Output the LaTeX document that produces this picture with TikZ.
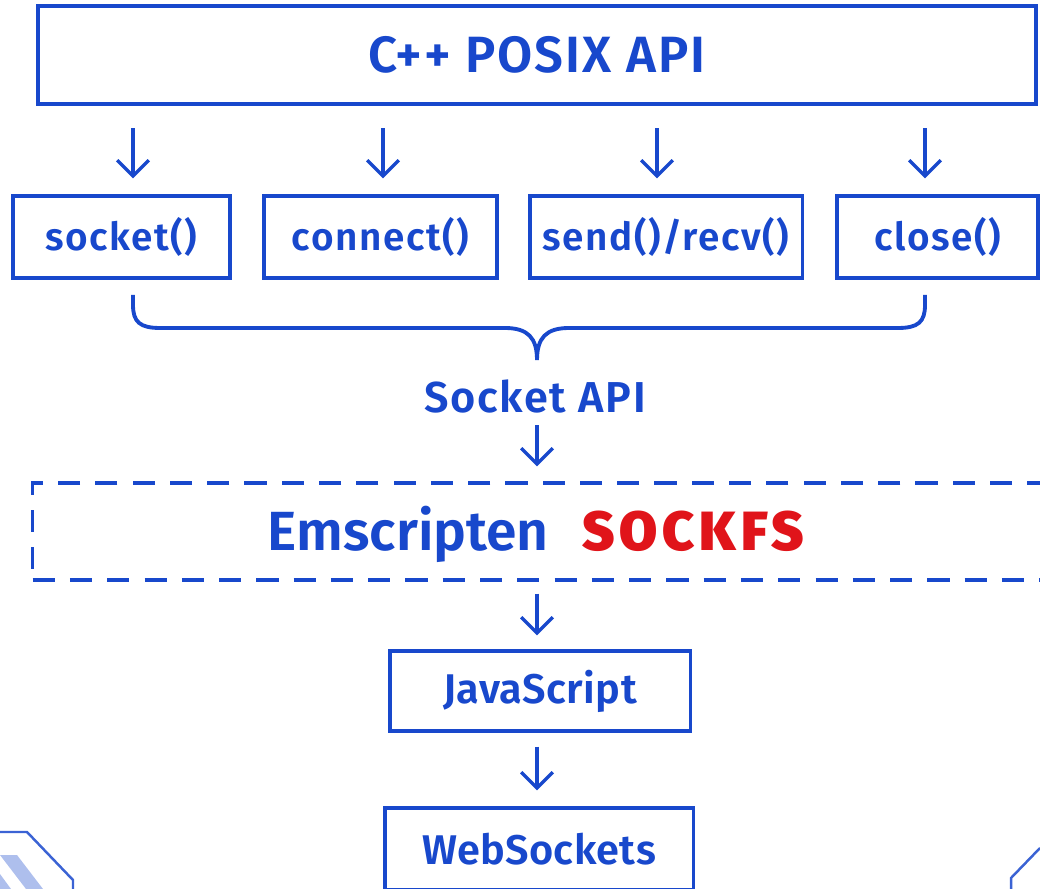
\documentclass[tikz,border=0pt]{standalone}
\usepackage{fontspec}
\setmainfont{Fira Sans}[BoldFont={Fira Sans SemiBold}]
\newfontfamily\heavyfont{Fira Sans Bold}[LetterSpace=9]
\usetikzlibrary{
    arrows.meta,
    positioning
}
\definecolor{apiblue}{HTML}{1848CC}
\definecolor{fsred}{HTML}{E0141A}
\tikzset{
    callbox/.style={draw=apiblue, line width=0.9pt, minimum height=0.82cm, text=apiblue,
        font=\fontsize{11}{13}\selectfont\bfseries\addfontfeatures{LetterSpace=4}},
    layerbox/.style={draw=apiblue, line width=0.9pt, minimum height=0.8cm, text=apiblue,
        font=\fontsize{11.8}{14}\selectfont\bfseries\addfontfeatures{LetterSpace=1}},
    flow/.style={draw=apiblue, line width=0.95pt, -{Straight Barb[length=4.5pt,width=9pt]}},
}

\begin{document}
\begin{tikzpicture}[x=0.01cm, y=-0.01cm]
    \clip (0, 0) rectangle (1040, 889);
    % top layer
    \node[draw=apiblue, line width=1.2pt, minimum width=9.97cm, minimum height=0.98cm, text=apiblue,
        font=\fontsize{14.5}{16}\selectfont\bfseries\addfontfeatures{LetterSpace=4}] (posix) at (537, 55) {C++ POSIX API};
    % the four calls
    \node[callbox, minimum width=2.17cm] (sock) at (121.5, 237) {socket()};
    \node[callbox, minimum width=2.33cm] (conn) at (380.5, 237) {connect()};
    \node[callbox, minimum width=2.72cm] (sendrecv) at (666, 237) {send()/recv()};
    \node[callbox, minimum width=2.01cm] (close) at (937.5, 237) {close()};
    \coordinate (c1) at (133, 0);
    \coordinate (c2) at (383, 0);
    \coordinate (c3) at (657, 0);
    \coordinate (c4) at (925, 0);
    \draw[flow, shorten <=0.22cm, shorten >=0.16cm] (c1 |- posix.south) -- (c1 |- sock.north);
    \draw[flow, shorten <=0.22cm, shorten >=0.16cm] (c2 |- posix.south) -- (c2 |- conn.north);
    \draw[flow, shorten <=0.22cm, shorten >=0.16cm] (c3 |- posix.south) -- (c3 |- sendrecv.north);
    \draw[flow, shorten <=0.22cm, shorten >=0.16cm] (c4 |- posix.south) -- (c4 |- close.north);
    % brace
    \coordinate (tip) at (537, 360);
    \draw[apiblue, line width=1.1pt]
        (c1 |- 0, 295) -- (c1 |- 0, 305) .. controls (133, 322) and (140, 328) .. (160, 328)
        -- (505, 328) .. controls (528, 328) and (537, 338) .. (tip)
        .. controls (537, 338) and (546, 328) .. (569, 328)
        -- (898, 328) .. controls (918, 328) and (925, 322) .. (c4 |- 0, 305) -- (c4 |- 0, 295);
    \node[text=apiblue, font=\fontsize{12.3}{14}\selectfont\bfseries\addfontfeatures{LetterSpace=4}] (sockapi) at (535, 396) {Socket API};
    % sockfs layer
    \node[draw=apiblue, line width=0.9pt, dash pattern=on 6.3pt off 4.3pt,
        minimum width=10.37cm, minimum height=0.97cm] (fsbox) at (551.5, 531.5) {};
    \node[text=apiblue, font=\fontsize{15.7}{18}\selectfont\bfseries] (fs) at (536, 534)
        {Emscripten\hspace{0.6em}{\heavyfont\textcolor{fsred}{SOCKFS}}};
    \draw[flow, shorten >=0.15cm] (sockapi.south -| tip) -- (fsbox.north -| tip);
    % lower layers
    \node[layerbox, minimum width=3cm] (js) at (540, 691) {JavaScript};
    \node[layerbox, minimum width=3.08cm, minimum height=0.82cm] (ws) at (539, 849) {WebSockets};
    \draw[flow, shorten <=0.12cm, shorten >=0.14cm] (fsbox.south -| tip) -- (js.north -| tip);
    \draw[flow, shorten <=0.14cm, shorten >=0.16cm] (js.south -| tip) -- (ws.north -| tip);
    % corner marks
    \fill[apiblue!35] (0, 855) -- (17, 855) -- (43, 889) -- (26, 889) -- cycle;
    \fill[apiblue!35] (0, 874) -- (0, 889) -- (11, 889) -- cycle;
    \draw[apiblue!85, line width=0.7pt] (0, 832) -- (27, 832) -- (73, 880) -- (73, 889);
    \draw[apiblue!85, line width=0.7pt] (1040, 848) -- (1011, 878) -- (1011, 889);
\end{tikzpicture}
\end{document}
